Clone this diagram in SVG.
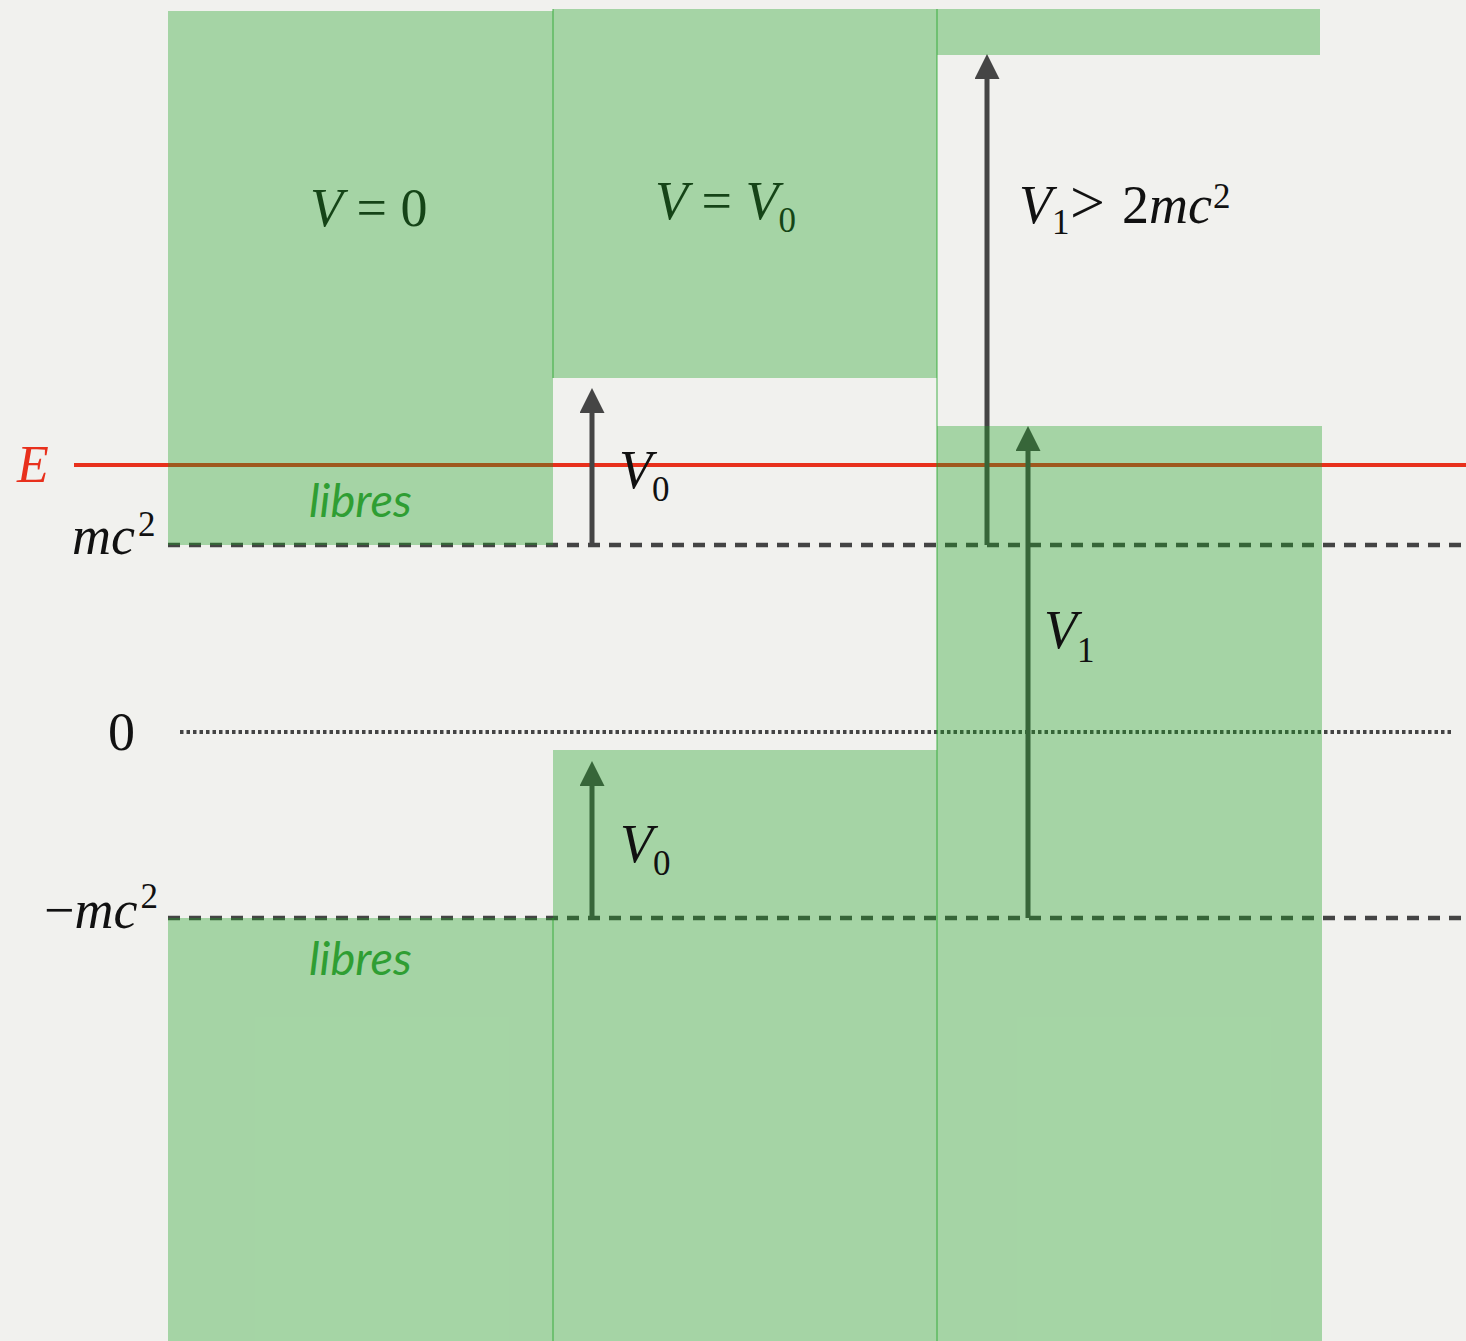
<svg xmlns="http://www.w3.org/2000/svg" width="1466" height="1341" viewBox="0 0 1466 1341">
<style>
.m{font-family:"Liberation Serif","Times New Roman",serif;font-size:54px;fill:#111}
.i{font-style:italic}
.sub{font-size:35px}
.lib{font-family:Lato,"Open Sans",sans-serif;font-style:italic;font-size:47px;fill:#2f9e33}
.band{fill:#1fa223;fill-opacity:0.36}
.edge{stroke:#1fa223;stroke-opacity:0.4;stroke-width:2}
.dash{stroke:#444;stroke-width:4.5;stroke-dasharray:12 9;fill:none}
.dot{stroke:#444;stroke-width:4;stroke-dasharray:3.5 3;fill:none}
.arr{stroke:#454545;stroke-width:5;fill:none;marker-end:url(#ah)}
</style>
<defs>
<marker id="ah" markerUnits="userSpaceOnUse" markerWidth="26" markerHeight="26" refX="5" refY="12.5" orient="auto">
<path d="M0,0 L25,12.5 L0,25 z" fill="#454545"/>
</marker>
</defs>
<rect width="1466" height="1341" fill="#f1f1ee"/>
<g id="connectors">
<line x1="74" y1="465" x2="1466" y2="465" stroke="#e8301c" stroke-width="4"/>
<line class="dash" x1="168" y1="545" x2="1466" y2="545"/>
<line class="dot" x1="180" y1="732" x2="1452" y2="732"/>
<line class="dash" x1="168" y1="918" x2="1466" y2="918"/>
<line class="arr" x1="592" y1="545" x2="592" y2="408"/>
<line class="arr" x1="987" y1="545" x2="987" y2="74"/>
<line class="arr" x1="1028" y1="918" x2="1028" y2="446"/>
<line class="arr" x1="592" y1="918" x2="592" y2="781"/>
</g>
<g id="label-v0-region"><text class="m" x="310" y="226"><tspan class="i">V</tspan> = 0</text></g>
<g id="label-vv0-region"><text class="m" x="655" y="219"><tspan class="i">V</tspan> = <tspan class="i">V</tspan><tspan class="sub" dy="13">0</tspan></text></g>
<g id="bands">
<rect id="r1" class="band" x="168" y="11" width="385" height="534"/>
<rect id="r2" class="band" x="553" y="9" width="384" height="369"/>
<rect id="r3" class="band" x="937" y="9" width="383" height="46"/>
<rect id="r4" class="band" x="168" y="918" width="385" height="423"/>
<rect id="r5" class="band" x="553" y="750" width="384" height="591"/>
<rect id="r6" class="band" x="937" y="426" width="385" height="915"/>
<line class="edge" x1="553" y1="9" x2="553" y2="378"/>
<line class="edge" x1="553" y1="918" x2="553" y2="1341"/>
<line class="edge" x1="937" y1="9" x2="937" y2="1341"/>
</g>
<g id="label-v1-cond"><text class="m" x="1019" y="223"><tspan class="i">V</tspan><tspan class="sub" dy="11">1</tspan><tspan x="1070" dy="-11" style="font-size:62px">&gt;</tspan><tspan x="1122">2</tspan><tspan class="i">mc</tspan><tspan class="sub" x="1213" dy="-15">2</tspan></text></g>
<g id="label-v0-up"><text class="m" x="619" y="488"><tspan class="i">V</tspan><tspan class="sub" dy="13">0</tspan></text></g>
<g id="label-v0-down"><text class="m" x="620" y="862"><tspan class="i">V</tspan><tspan class="sub" dy="13">0</tspan></text></g>
<g id="label-v1"><text class="m" x="1044" y="648"><tspan class="i">V</tspan><tspan class="sub" dy="14">1</tspan></text></g>
<g id="libres-up"><text class="lib" x="309" y="517">libres</text></g>
<g id="libres-down"><text class="lib" x="309" y="975">libres</text></g>
<g id="axis-labels">
<text class="m i" x="17" y="482" style="fill:#e8301c;font-size:52px">E</text>
<text class="m" x="72" y="554"><tspan class="i">mc</tspan><tspan class="sub" dx="3" dy="-18">2</tspan></text>
<text class="m" x="108" y="750">0</text>
<text class="m" x="44" y="928">−<tspan class="i">mc</tspan><tspan class="sub" dx="3" dy="-20">2</tspan></text>
</g>
</svg>
